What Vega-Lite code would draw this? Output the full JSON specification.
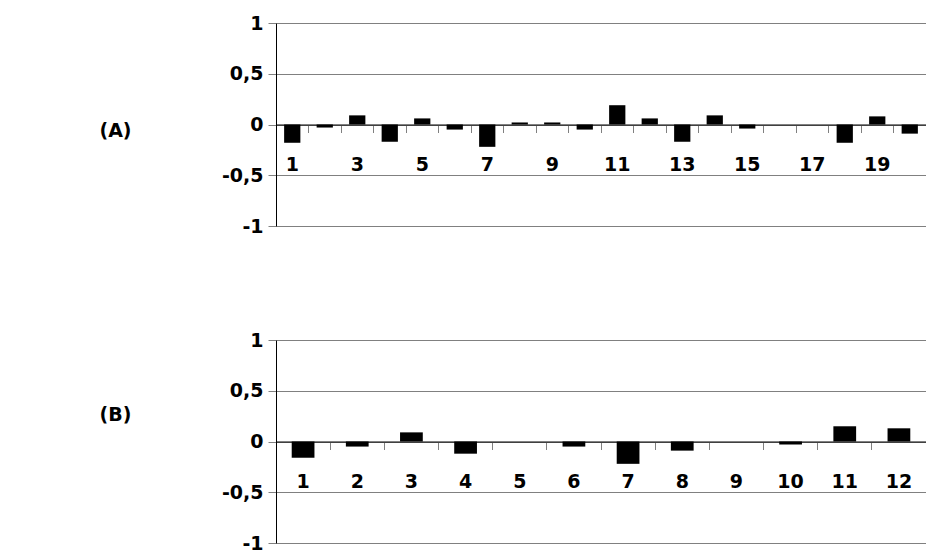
{
  "$schema": "https://vega.github.io/schema/vega-lite/v6.json",
  "padding": {"left": 98, "top": 14, "right": 0, "bottom": 0},
  "background": "white",
  "config": {
    "view": {"stroke": null},
    "font": "DejaVu Sans",
    "axis": {"labelFont": "DejaVu Sans", "titleFont": "DejaVu Sans"}
  },
  "datasets": {
    "A": [
      {"cat": 1, "value": -0.18}, {"cat": 2, "value": -0.03}, {"cat": 3, "value": 0.09},
      {"cat": 4, "value": -0.17}, {"cat": 5, "value": 0.06}, {"cat": 6, "value": -0.05},
      {"cat": 7, "value": -0.22}, {"cat": 8, "value": 0.02}, {"cat": 9, "value": 0.02},
      {"cat": 10, "value": -0.05}, {"cat": 11, "value": 0.19}, {"cat": 12, "value": 0.06},
      {"cat": 13, "value": -0.17}, {"cat": 14, "value": 0.09}, {"cat": 15, "value": -0.04},
      {"cat": 16, "value": 0}, {"cat": 17, "value": 0}, {"cat": 18, "value": -0.18},
      {"cat": 19, "value": 0.08}, {"cat": 20, "value": -0.09}
    ],
    "B": [
      {"cat": 1, "value": -0.16}, {"cat": 2, "value": -0.05}, {"cat": 3, "value": 0.09},
      {"cat": 4, "value": -0.12}, {"cat": 5, "value": 0}, {"cat": 6, "value": -0.05},
      {"cat": 7, "value": -0.22}, {"cat": 8, "value": -0.09}, {"cat": 9, "value": 0},
      {"cat": 10, "value": -0.03}, {"cat": 11, "value": 0.15}, {"cat": 12, "value": 0.13}
    ]
  },
  "spacing": 95,
  "vconcat": [
    {
      "width": 650,
      "height": 203,
      "data": {"name": "A"},
      "encoding": {
        "y": {
          "field": "value", "type": "quantitative",
          "scale": {"domain": [-1, 1], "nice": false},
          "axis": {
            "values": [-1, -0.5, 0, 0.5, 1],
            "labelExpr": "replace(toString(datum.value), '.', ',')",
            "labelFontSize": 19, "labelFontWeight": "bold", "labelColor": "black",
            "labelPadding": 5,
            "domainColor": "black", "domainWidth": 1,
            "tickColor": "#808080", "tickSize": 8,
            "grid": true, "gridColor": "#808080", "gridWidth": 1,
            "title": "(A)", "titleAngle": 0, "titleX": -161, "titleY": 107,
            "titleAlign": "center", "titleBaseline": "middle",
            "titleFontSize": 19, "titleFontWeight": "bold", "titleColor": "black"
          }
        }
      },
      "layer": [
        {
          "mark": {"type": "bar", "color": "black", "width": {"band": 0.5}},
          "encoding": {
            "x": {
              "field": "cat", "type": "ordinal",
              "scale": {"paddingInner": 0, "paddingOuter": 0},
              "axis": {
                "orient": "bottom", "offset": -101.5, "title": null,
                "domain": false, "ticks": false, "tickSize": 0, "grid": false,
                "labelAngle": 0, "labelFontSize": 19, "labelFontWeight": "bold",
                "labelColor": "black", "labelPadding": 31,
                "labelExpr": "datum.value % 2 == 1 ? datum.label : ''"
              }
            }
          }
        },
        {
          "mark": {"type": "bar", "opacity": 0, "width": {"band": 0.5}},
          "encoding": {
            "x": {
              "field": "cat", "type": "ordinal",
              "axis": {
                "orient": "bottom", "offset": -101.5, "title": null,
                "domain": true, "domainColor": "black", "domainWidth": 1,
                "ticks": true, "tickSize": 8, "tickColor": "#808080", "bandPosition": 0,
                "labels": false, "grid": false
              }
            }
          }
        }
      ],
      "resolve": {"axis": {"x": "independent"}}
    },
    {
      "width": 650,
      "height": 203,
      "data": {"name": "B"},
      "encoding": {
        "y": {
          "field": "value", "type": "quantitative",
          "scale": {"domain": [-1, 1], "nice": false},
          "axis": {
            "values": [-1, -0.5, 0, 0.5, 1],
            "labelExpr": "replace(toString(datum.value), '.', ',')",
            "labelFontSize": 19, "labelFontWeight": "bold", "labelColor": "black",
            "labelPadding": 5,
            "domainColor": "black", "domainWidth": 1,
            "tickColor": "#808080", "tickSize": 8,
            "grid": true, "gridColor": "#808080", "gridWidth": 1,
            "title": "(B)", "titleAngle": 0, "titleX": -161, "titleY": 74,
            "titleAlign": "center", "titleBaseline": "middle",
            "titleFontSize": 19, "titleFontWeight": "bold", "titleColor": "black"
          }
        }
      },
      "layer": [
        {
          "mark": {"type": "bar", "color": "black", "width": {"band": 0.42}},
          "encoding": {
            "x": {
              "field": "cat", "type": "ordinal",
              "scale": {"paddingInner": 0, "paddingOuter": 0},
              "axis": {
                "orient": "bottom", "offset": -101.5, "title": null,
                "domain": false, "ticks": false, "tickSize": 0, "grid": false,
                "labelAngle": 0, "labelFontSize": 19, "labelFontWeight": "bold",
                "labelColor": "black", "labelPadding": 31
              }
            }
          }
        },
        {
          "mark": {"type": "bar", "opacity": 0, "width": {"band": 0.42}},
          "encoding": {
            "x": {
              "field": "cat", "type": "ordinal",
              "axis": {
                "orient": "bottom", "offset": -101.5, "title": null,
                "domain": true, "domainColor": "black", "domainWidth": 1,
                "ticks": true, "tickSize": 8, "tickColor": "#808080", "bandPosition": 0,
                "labels": false, "grid": false
              }
            }
          }
        }
      ],
      "resolve": {"axis": {"x": "independent"}}
    }
  ]
}
